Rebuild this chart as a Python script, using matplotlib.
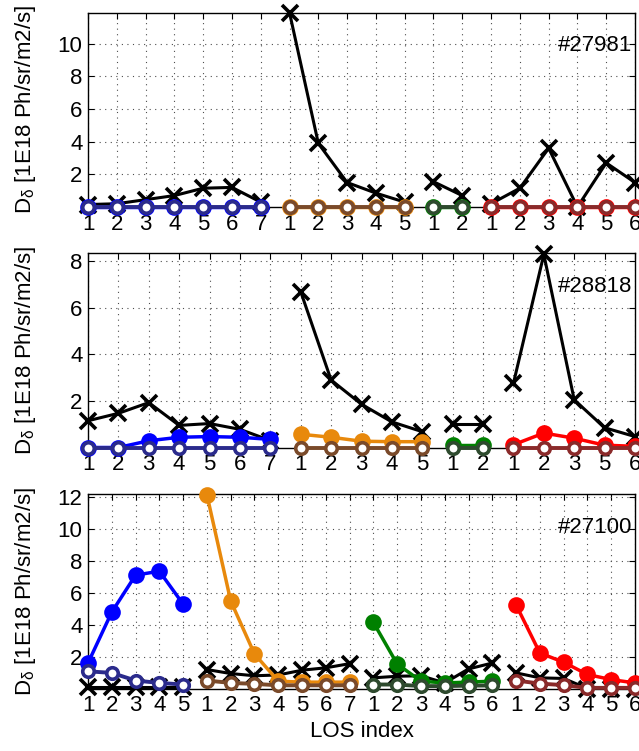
import matplotlib
matplotlib.use('Agg')
import matplotlib.pyplot as plt
import numpy as np

plt.rcParams['font.family'] = ['Liberation Sans', 'DejaVu Sans']
plt.rcParams['font.size'] = 16

# colours of the four LOS groups
fill_colors = ['#0000ff', '#e8890c', '#008000', '#ff0000']
open_colors = ['#2b2b8c', '#7a4a2a', '#2e4a2e', '#8a2a2a']

shots = ['#27981', '#28818', '#27100']

# ---- shot 27981 ----
los_27981 = [[1, 2, 3, 4, 5, 6, 7], [1, 2, 3, 4, 5], [1, 2], [1, 2, 3, 4, 5, 6]]
cross_27981 = [[0.15, 0.2, 0.45, 0.7, 1.15, 1.2, 0.3],
               [11.9, 3.9, 1.5, 0.85, 0.3],
               [1.55, 0.7],
               [0.2, 1.15, 3.6, 0.0, 2.7, 1.5]]
fill_27981 = [[0, 0, 0, 0, 0, 0, 0], [0, 0, 0, 0, 0], [0, 0], [0, 0, 0, 0, 0, 0]]
open_27981 = [[0, 0, 0, 0, 0, 0, 0], [0, 0, 0, 0, 0], [0, 0], [0, 0, 0, 0, 0, 0]]

# ---- shot 28818 ----
los_28818 = [[1, 2, 3, 4, 5, 6, 7], [1, 2, 3, 4, 5], [1, 2], [1, 2, 3, 5, 6]]
cross_28818 = [[1.15, 1.47, 1.93, 0.95, 1.03, 0.78, 0.3],
               [6.7, 2.9, 1.86, 1.1, 0.68],
               [1.0, 1.0],
               [2.76, 8.3, 2.05, 0.85, 0.47]]
fill_28818 = [[0, 0, 0.29, 0.44, 0.47, 0.44, 0.35],
              [0.57, 0.44, 0.27, 0.25, 0.25],
              [0.1, 0.1],
              [0.12, 0.62, 0.4, 0.1, 0.05]]
open_28818 = [[0, 0, 0, 0, 0, 0, 0], [0, 0, 0, 0, 0], [0, 0], [0, 0, 0, 0, 0]]

# ---- shot 27100 ----
los_27100 = [[1, 2, 3, 4, 5], [1, 2, 3, 4, 5, 6, 7], [1, 2, 3, 4, 5, 6], [1, 2, 3, 4, 5, 6]]
cross_27100 = [[0.1, 0.1, 0.1, 0.1, 0.1],
               [1.19, 0.94, 0.8, 0.85, 1.15, 1.3, 1.56],
               [0.67, 0.77, 0.8, 0.35, 1.23, 1.6],
               [0.98, 0.67, 0.63, 0.0, 0.0, 0.0]]
fill_27100 = [[1.6, 4.8, 7.12, 7.37, 5.3],
              [12.17, 5.5, 2.17, 0.46, 0.4, 0.4, 0.4],
              [4.15, 1.54, 0.46, 0.35, 0.4, 0.46],
              [5.25, 2.23, 1.65, 0.88, 0.56, 0.35]]
open_27100 = [[1.08, 0.98, 0.5, 0.35, 0.25],
              [0.5, 0.35, 0.29, 0.2, 0.2, 0.2, 0.2],
              [0.25, 0.25, 0.15, 0.15, 0.18, 0.19],
              [0.5, 0.31, 0.21, 0.04, 0.04, 0.04]]

panels = [
    (los_27981, cross_27981, fill_27981, open_27981, 11.9, [2, 4, 6, 8, 10]),
    (los_28818, cross_28818, fill_28818, open_28818, 8.35, [2, 4, 6, 8]),
    (los_27100, cross_27100, fill_27100, open_27100, 12.2, [2, 4, 6, 8, 10, 12]),
]

W, H = 639, 751
fig = plt.figure(figsize=(W / 100, H / 100), dpi=100)

# axes boxes in pixels: (top, bottom)
boxes = [(12.7, 207), (253.3, 447.5), (494.3, 688.5)]
left_px, right_px = 88, 635

for i, (los, cross, fill, opn, ytop, yt) in enumerate(panels):
    top, bot = boxes[i]
    ax = fig.add_axes([left_px / W, 1 - bot / H, (right_px - left_px) / W, (bot - top) / H])

    pos = 1
    labels = []
    for g in range(4):
        n = len(los[g])
        x = np.arange(pos, pos + n)
        ax.plot(x, cross[g], '-x', color='k', lw=2.2, ms=11, mew=2.6,
                clip_on=False, zorder=3)
        ax.plot(x, fill[g], '-o', color=fill_colors[g], lw=2.5, ms=10.5, mew=1.5,
                clip_on=False, zorder=4)
        ax.plot(x, opn[g], '-o', color=open_colors[g], lw=2.8, ms=8.3, mew=2.6,
                mfc='white', mec=open_colors[g], clip_on=False, zorder=5)
        labels += [str(v) for v in los[g]]
        pos += n

    ax.set_xlim(1, pos - 1)
    ax.set_ylim(0, ytop)
    ax.set_xticks(np.arange(1, pos))
    ax.set_xticklabels(labels)
    ax.set_yticks(yt)
    ax.set_axisbelow(True)
    ax.grid(True, linestyle=(0, (1, 4)), color='0.3', linewidth=0.8)
    ax.tick_params(direction='in', top=True, right=True, length=4, width=0.8)
    ax.tick_params(axis='x', pad=5)
    ax.tick_params(axis='y', pad=4)
    for s in ax.spines.values():
        s.set_linewidth(1.0)

    ax.set_ylabel('D$_\\mathregular{δ}$ [1E18 Ph/sr/m2/s]')
    ax.yaxis.set_label_coords(-0.092, 0.5)
    ax.text(0.995, 0.83, shots[i], transform=ax.transAxes, ha='right', va='center')

    if i == 2:
        ax.set_xlabel('LOS index')
        ax.xaxis.set_label_coords(0.5, -0.165)

fig.savefig('out.png', dpi=100)
